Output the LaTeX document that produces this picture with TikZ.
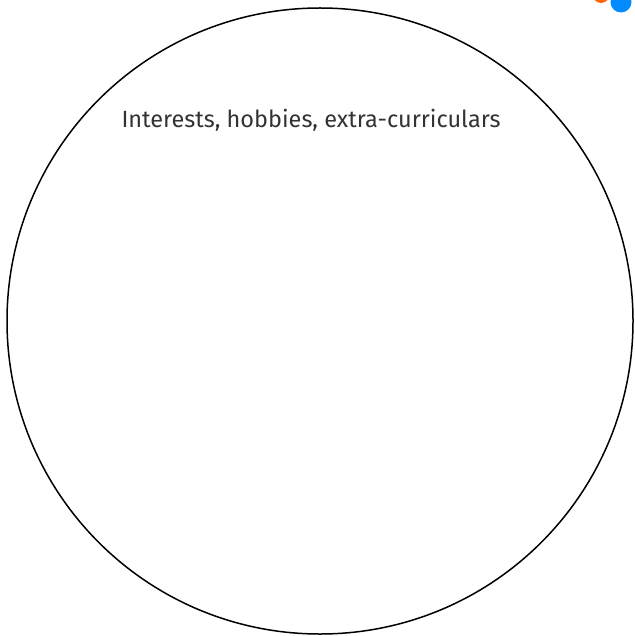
\documentclass[tikz,border=0pt]{standalone}
\usepackage{fontspec}
\setmainfont{Fira Sans}
\usepackage{tikz}

\begin{document}
\begin{tikzpicture}[x=1pt,y=-1pt]
        \useasboundingbox (0,0) rectangle (634,636);
        % corner dots, cut by the page edge
        \begin{scope}
            \clip (0,0) rectangle (634,636);
            \fill[orange!80!red] (601,-5) circle (8);
            \fill[blue!45!cyan] (621,2) circle (10.5);
        \end{scope}
        % the big circle
        \node[circle,draw,line width=1.5pt,minimum size=626pt,inner sep=0pt] (ring) at (320,321) {};
        \node[font=\fontsize{23.5}{26}\selectfont,text=black!80] (label) at (311,120) {Interests, hobbies, extra-curriculars};
    \end{tikzpicture}
\end{document}
